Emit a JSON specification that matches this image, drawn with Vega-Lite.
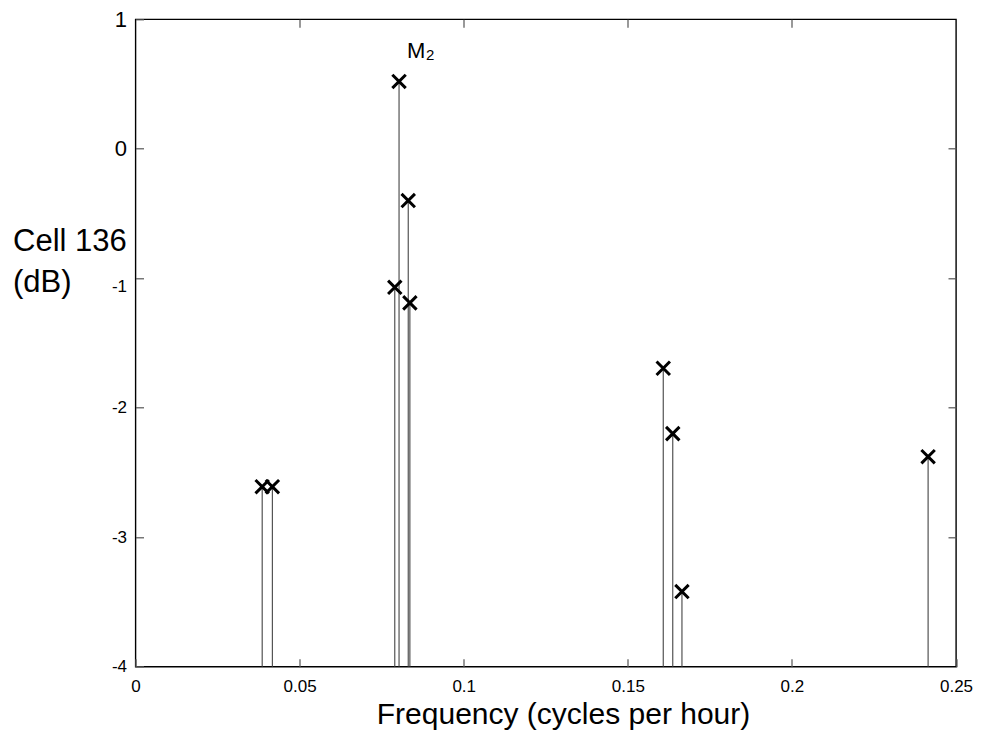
{
  "$schema": "https://vega.github.io/schema/vega-lite/v6.json",
  "autosize": "none",
  "width": 820.5,
  "height": 647.4,
  "padding": {"left": 135.5, "top": 19.3, "right": 26, "bottom": 73.3},
  "background": "white",
  "config": {
    "view": {"stroke": "#000", "strokeWidth": 1.4},
    "font": "Liberation Sans",
    "axis": {"grid": false, "domain": false, "labelFont": "Liberation Sans", "titleFont": "Liberation Sans", "labelColor": "#000", "titleColor": "#000", "tickColor": "#555", "tickWidth": 1.2, "tickSize": -8}
  },
  "data": {"values": [
    {"freq": 0.0386, "db": -2.61, "label": ""},
    {"freq": 0.0417, "db": -2.61, "label": ""},
    {"freq": 0.0790, "db": -1.07, "label": ""},
    {"freq": 0.0803, "db": 0.52, "label": "M"},
    {"freq": 0.0831, "db": -0.40, "label": ""},
    {"freq": 0.0836, "db": -1.19, "label": ""},
    {"freq": 0.1608, "db": -1.695, "label": ""},
    {"freq": 0.1637, "db": -2.20, "label": ""},
    {"freq": 0.1665, "db": -3.42, "label": ""},
    {"freq": 0.2415, "db": -2.378, "label": ""}
  ]},
  "resolve": {"axis": {"x": "independent", "y": "independent"}},
  "layer": [
    {
      "mark": {"type": "rule", "color": "#444", "strokeWidth": 1.1},
      "encoding": {
        "x": {"field": "freq", "type": "quantitative", "scale": {"domain": [0, 0.25], "nice": false, "zero": false},
          "axis": {"orient": "bottom", "values": [0, 0.05, 0.1, 0.15, 0.2, 0.25], "labelExpr": "'' + datum.value", "labelFontSize": 17, "labelPadding": 20, "labelFlush": false, "title": "Frequency (cycles per hour)", "titleFontSize": 30, "titleFontWeight": "normal", "titleX": 427.5, "titleY": 57, "titleBaseline": "alphabetic", "titleAnchor": "middle"}},
        "y": {"field": "db", "type": "quantitative", "scale": {"domain": [-4, 1], "nice": false, "zero": false},
          "axis": {"orient": "left", "values": [-4, -3, -2, -1, 0, 1], "labelExpr": "datum.value < 0 ? '-' + abs(datum.value) : '' + datum.value", "labelFontSize": {"condition": {"test": "datum.value >= 0", "value": 22}, "value": 17}, "labelOffset": {"condition": {"test": "datum.value == -1", "value": 8}, "value": 0}, "labelPadding": 17, "labelFlush": false, "title": ["Cell 136", "(dB)"], "titleAngle": 0, "titleFontSize": 31, "titleFontWeight": "normal", "titleAlign": "left", "titleBaseline": "alphabetic", "titleX": -123, "titleY": 230.7, "titleLineHeight": 41}},
        "y2": {"datum": -4}
      }
    },
    {
      "mark": {"type": "point", "shape": "M-1,-1L1,1M-1,1L1,-1", "stroke": "#000", "strokeWidth": 3, "size": 180, "filled": false, "opacity": 1},
      "encoding": {
        "x": {"field": "freq", "type": "quantitative", "axis": {"orient": "top", "values": [0.05, 0.1, 0.15, 0.2], "labels": false, "title": null}},
        "y": {"field": "db", "type": "quantitative", "axis": {"orient": "right", "values": [-3, -2, -1, 0], "labels": false, "title": null}}
      }
    },
    {
      "transform": [{"filter": "datum.label == 'M'"}],
      "layer": [
        {
          "mark": {"type": "text", "text": "M", "fontSize": 22, "align": "left", "baseline": "alphabetic", "dx": 8, "dy": -23.7, "color": "#000"},
          "encoding": {"x": {"field": "freq", "type": "quantitative", "axis": null}, "y": {"field": "db", "type": "quantitative", "axis": null}}
        },
        {
          "mark": {"type": "text", "text": "2", "fontSize": 15, "align": "left", "baseline": "alphabetic", "dx": 27, "dy": -21, "color": "#000"},
          "encoding": {"x": {"field": "freq", "type": "quantitative", "axis": null}, "y": {"field": "db", "type": "quantitative", "axis": null}}
        }
      ]
    }
  ]
}
